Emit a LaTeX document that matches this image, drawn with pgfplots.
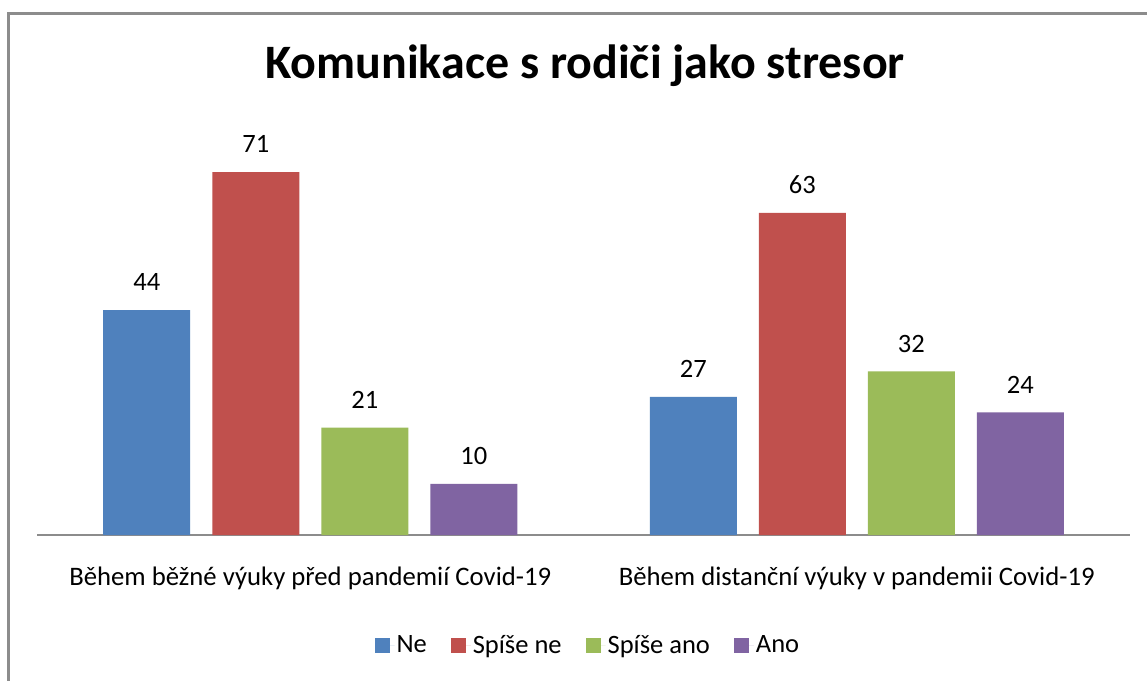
\documentclass[border=0pt]{standalone}
\usepackage{fontspec}
\setmainfont{Carlito}
\usepackage{pgfplots}
\pgfplotsset{compat=1.18}
\definecolor{cBlue}{HTML}{4F81BD}
\definecolor{cRed}{HTML}{C0504D}
\definecolor{cGreen}{HTML}{9BBB59}
\definecolor{cPurple}{HTML}{8064A2}
\definecolor{cFrame}{HTML}{8C8C8C}
\begin{document}
\begin{tikzpicture}[x=1pt,y=1pt]
\useasboundingbox (0,0) rectangle (1147,680);
\fill[white] (0,0) rectangle (1147,680);
\draw[line width=3pt, color=cFrame] (8,-20) |- (1170,666);
\node[font=\fontsize{48}{57}\selectfont\bfseries, anchor=base] at (585,601) {Komunikace s rodiči jako stresor};
\begin{axis}[
  at={(37pt,145pt)}, anchor=south west,
  width=1093pt, height=409pt, scale only axis,
  xmin=-0.5, xmax=1.5, ymin=0, ymax=80,
  ybar=22pt, bar width=87pt,
  axis x line*=bottom, axis y line=none,
  x axis line style={-, draw=cFrame, line width=1.5pt},
  xtick={0,1},
  xticklabels={Během běžné výuky před pandemií Covid-19, Během distanční výuky v pandemii Covid-19},
  major tick length=0pt, ytick=\empty,
  xticklabel style={anchor=base, yshift=-50pt, font=\fontsize{26.7}{32}\selectfont},
  /pgf/number format/assume math mode=true,
  nodes near coords,
  nodes near coords style={inner sep=0pt, yshift=19pt, font=\fontsize{26.5}{32}\selectfont, text=black},
  clip=false,
  legend style={draw=none, fill=none, legend columns=-1, font=\fontsize{26.5}{32}\selectfont,
    at={(0.504,-0.269)}, anchor=center,
    /tikz/every even column/.append style={column sep=22pt}},
  legend image code/.code={\fill[#1] (0pt,-7.5pt) rectangle (15pt,7.5pt); \path (15pt,0pt) -- (20pt,0pt);},
]
\addplot[fill=cBlue, draw=none] coordinates {(0,44) (1,27)};
\addplot[fill=cRed, draw=none] coordinates {(0,71) (1,63)};
\addplot[fill=cGreen, draw=none] coordinates {(0,21) (1,32)};
\addplot[fill=cPurple, draw=none] coordinates {(0,10) (1,24)};
\legend{Ne, Spíše ne, Spíše ano, Ano}
\end{axis}
\end{tikzpicture}
\end{document}
